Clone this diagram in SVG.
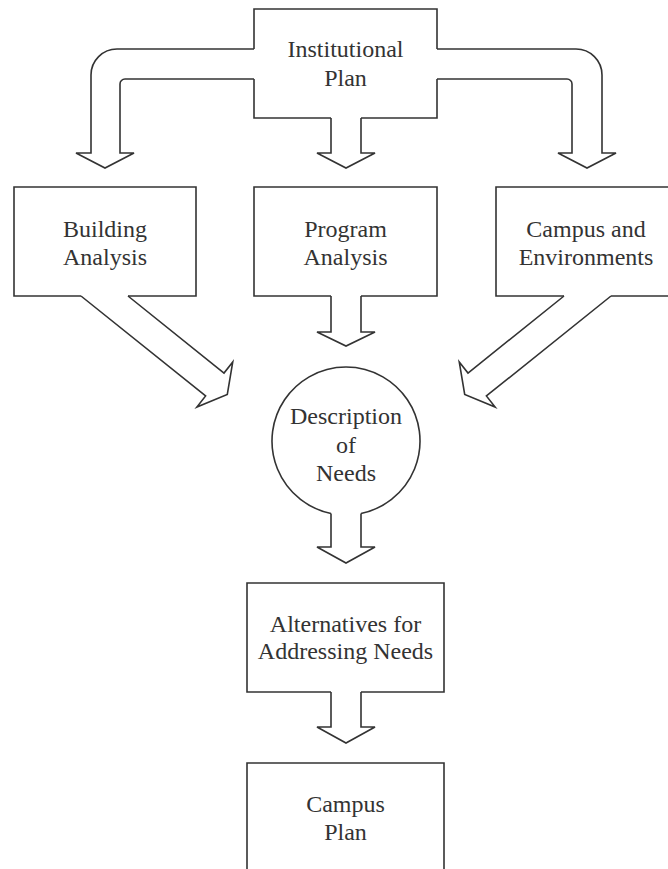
<svg xmlns="http://www.w3.org/2000/svg" width="668" height="869" viewBox="0 0 668 869">
<style>
.ln{fill:none;stroke:#333;stroke-width:1.6;stroke-linejoin:miter}
.t{font-family:"Liberation Serif","Times New Roman",serif;font-size:24px;fill:#333;text-anchor:middle}
</style>
<rect width="668" height="869" fill="#fff"/>
<g id="connectors">
<path class="ln" d="M254,49 H117 A26,26 0 0 0 91,75 V153 H76 L105,168 L134,153 H120 V84 A5,5 0 0 1 125,79 H254"/>
<path class="ln" d="M437,49 H576 A26,26 0 0 1 602,75 V153 H616 L587,168 L558,153 H572 V84 A5,5 0 0 0 567,79 H437"/>
<path class="ln" d="M331,118 V153 H317 L346,168 L375,153 H361 V118"/>
<path class="ln" d="M81,296 L205.6,396 L196.9,407 L227.3,394.5 L232.75,362 L224,373 L128,296"/>
<path class="ln" d="M331,296 V332 H317 L346,346 L375,332 H361 V296"/>
<path class="ln" d="M611,296 L486.4,396 L495.1,407 L464.7,394.5 L459.25,362 L468,373 L564,296"/>
<path class="ln" d="M331,513.5 V547 H317 L346,563 L375,547 H361 V513.5"/>
<path class="ln" d="M331,692 V727 H317 L346,743 L375,727 H361 V692"/>
</g>
<g id="institutional-plan">
<path class="ln" d="M254,49 V9 H437 V49 M437,79 V118 H361 M331,118 H254 V79"/>
<text class="t" x="345.5" y="57">Institutional</text>
<text class="t" x="345.5" y="86">Plan</text>
</g>
<g id="building-analysis">
<path class="ln" d="M81,296 H14 V187 H196 V296 H128"/>
<text class="t" x="105" y="237">Building</text>
<text class="t" x="105" y="265">Analysis</text>
</g>
<g id="program-analysis">
<path class="ln" d="M331,296 H254 V187 H437 V296 H361"/>
<text class="t" x="345.5" y="237">Program</text>
<text class="t" x="345.5" y="265">Analysis</text>
</g>
<g id="campus-environments">
<path class="ln" d="M564,296 H496 V187 H672 M672,296 H611"/>
<text class="t" x="586" y="237">Campus and</text>
<text class="t" x="586" y="265">Environments</text>
</g>
<g id="description-of-needs">
<path class="ln" d="M331,513.5 A74,74 0 1 1 361,513.5"/>
<text class="t" x="346" y="424">Description</text>
<text class="t" x="346" y="453">of</text>
<text class="t" x="346" y="481">Needs</text>
</g>
<g id="alternatives">
<path class="ln" d="M331,692 H247 V583 H444 V692 H361"/>
<text class="t" x="345.5" y="632">Alternatives for</text>
<text class="t" x="345.5" y="659">Addressing Needs</text>
</g>
<g id="campus-plan">
<path class="ln" d="M247,875 V763 H444 V875"/>
<text class="t" x="345.5" y="812">Campus</text>
<text class="t" x="345.5" y="840">Plan</text>
</g>
</svg>
